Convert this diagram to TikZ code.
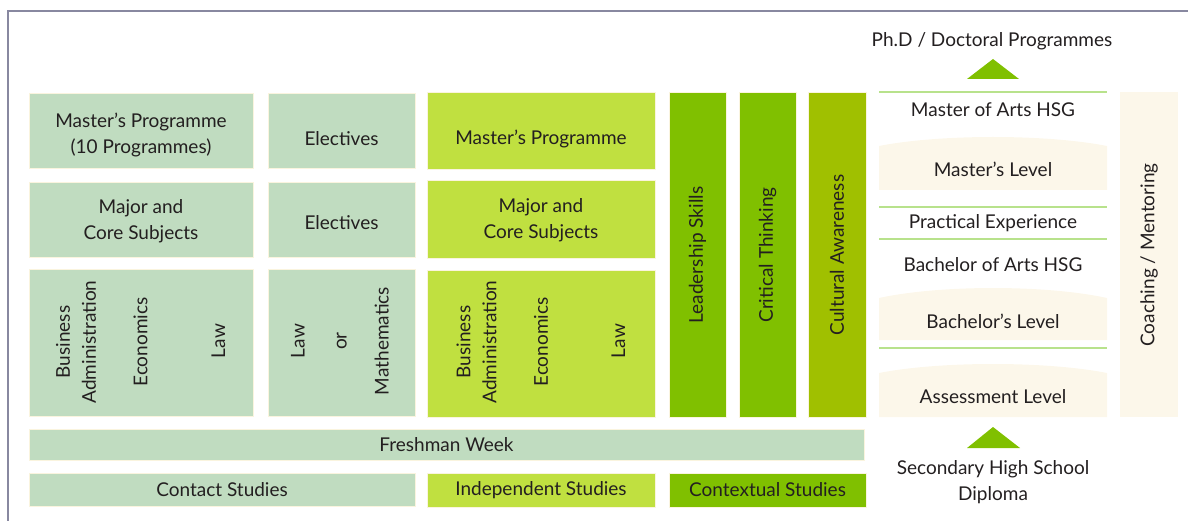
\documentclass[tikz,border=0pt]{standalone}
\usepackage{fontspec}
\setmainfont{Lato}
\definecolor{sage}{RGB}{192,220,192}
\definecolor{lime}{RGB}{192,224,64}
\definecolor{leaf}{RGB}{128,192,0}
\definecolor{olive}{RGB}{160,192,0}
\definecolor{cream}{RGB}{252,247,234}
\definecolor{rim}{RGB}{250,244,222}
\definecolor{rule}{RGB}{184,226,140}
\definecolor{frame}{RGB}{136,136,160}
\definecolor{ink}{RGB}{35,31,32}
\begin{document}
\begin{tikzpicture}[x=1pt,y=-1pt]
	\tikzstyle{box} = [rectangle,draw=rim,line width=0.6pt,inner sep=0pt]
	\tikzstyle{contact} = [box,fill=sage]
	\tikzstyle{indep} = [box,fill=lime]
	\tikzstyle{context} = [box,fill=leaf]
	\tikzstyle{txt} = [text=ink,align=center,inner sep=0pt,font=\fontsize{19}{26}\selectfont]
	\tikzstyle{vtxt} = [txt,rotate=90]
	\useasboundingbox (0,0) rectangle (1188,521);
	\draw[frame,line width=2pt] (8,521) |- (1188,11);
	
	% contact studies block
	\node[contact,minimum width=224,minimum height=75](c-1-1)at (141,130.5){};
	\node[contact,minimum width=147,minimum height=75](c-1-2)at (341.5,130.5){};
	\node[contact,minimum width=224,minimum height=75](c-2-1)at (141,219.5){};
	\node[contact,minimum width=147,minimum height=75](c-2-2)at (341.5,219.5){};
	\node[contact,minimum width=224,minimum height=147](c-3-1)at (141,342.5){};
	\node[contact,minimum width=147,minimum height=147](c-3-2)at (341.5,342.5){};
	\node[contact,minimum width=835,minimum height=31](fresh)at (446.5,444.5){};
	\node[contact,minimum width=386,minimum height=33](contact)at (222,489.5){};
	
	% independent studies block
	\node[indep,minimum width=228,minimum height=77](i-1)at (541,130.5){};
	\node[indep,minimum width=228,minimum height=78](i-2)at (541,219){};
	\node[indep,minimum width=228,minimum height=147](i-3)at (541,343.5){};
	\node[indep,minimum width=228,minimum height=34](indep)at (541,490){};
	
	% contextual studies block
	\node[context,minimum width=57,minimum height=325](x-1)at (697.5,254.5){};
	\node[context,minimum width=57,minimum height=325](x-2)at (767.5,254.5){};
	\node[context,fill=olive,minimum width=58,minimum height=325](x-3)at (837,254.5){};
	\node[context,minimum width=197,minimum height=34](context)at (767.5,490){};
	
	% degree ladder
	\node[box,draw=none,fill=cream,minimum width=58,minimum height=325](coach)at (1149,254.5){};
	\fill[cream] (879,190) -- (879,146) .. controls (940,134) and (1046,134) .. (1107,146) -- (1107,190) -- cycle;
	\fill[cream] (879,340) -- (879,298) .. controls (940,284.7) and (1046,284.7) .. (1107,298) -- (1107,340) -- cycle;
	\fill[cream] (879,417) -- (879,373) .. controls (940,361) and (1046,361) .. (1107,373) -- (1107,417) -- cycle;
	\draw[rule,line width=1.5pt] (879,92) -- (1107,92)
	(879,207) -- (1107,207)
	(879,239) -- (1107,239)
	(879,348) -- (1107,348);
	\fill[leaf] (967,79) -- (993,59) -- (1019,79) -- cycle;
	\fill[leaf] (967,448) -- (993,427) -- (1020,448) -- cycle;
	
	% labels
	\node[txt](t-1-1)at (141,135){Master’s Programme\\(10 Programmes)};
	\node[txt](t-1-2)at (341.5,139){Electives};
	\node[txt](t-2-1)at (141,221){Major and\\Core Subjects};
	\node[txt](t-2-2)at (341.5,222.5){Electives};
	\node[vtxt](t-3-1)at (76,342){Business\\Administration};
	\node[vtxt](t-3-2)at (140.5,342){Economics};
	\node[vtxt](t-3-3)at (218.5,341){Law};
	\node[vtxt,font=\fontsize{19}{42}\selectfont](t-3-4)at (340,341){Law\\or\\Mathematics};
	\node[txt](t-fresh)at (446.5,445){Freshman Week};
	\node[txt](t-contact)at (222,490){Contact Studies};
	
	\node[txt](u-1)at (541,139){Master’s Programme};
	\node[txt](u-2)at (541,220){Major and\\Core Subjects};
	\node[vtxt](u-3-1)at (476.5,342){Business\\Administration};
	\node[vtxt](u-3-2)at (541,342){Economics};
	\node[vtxt](u-3-3)at (618.5,341){Law};
	\node[txt](u-indep)at (541,490){Independent Studies};
	
	\node[vtxt](v-1)at (697.5,255){Leadership Skills};
	\node[vtxt](v-2)at (767.5,255){Critical Thinking};
	\node[vtxt](v-3)at (837,255){Cultural Awareness};
	\node[txt](v-context)at (767.5,490){Contextual Studies};
	
	\node[txt](phd)at (992,41){Ph.D / Doctoral Programmes};
	\node[txt](ma)at (993,110){Master of Arts HSG};
	\node[txt](ml)at (993,169){Master’s Level};
	\node[txt](pe)at (993,223){Practical Experience};
	\node[txt](ba)at (993,265){Bachelor of Arts HSG};
	\node[txt](bl)at (993,321){Bachelor’s Level};
	\node[txt](al)at (993,397){Assessment Level};
	\node[txt](hs)at (993,482){Secondary High School\\Diploma};
	\node[vtxt](cm)at (1149,255){Coaching / Mentoring};
	
\end{tikzpicture}
\end{document}
